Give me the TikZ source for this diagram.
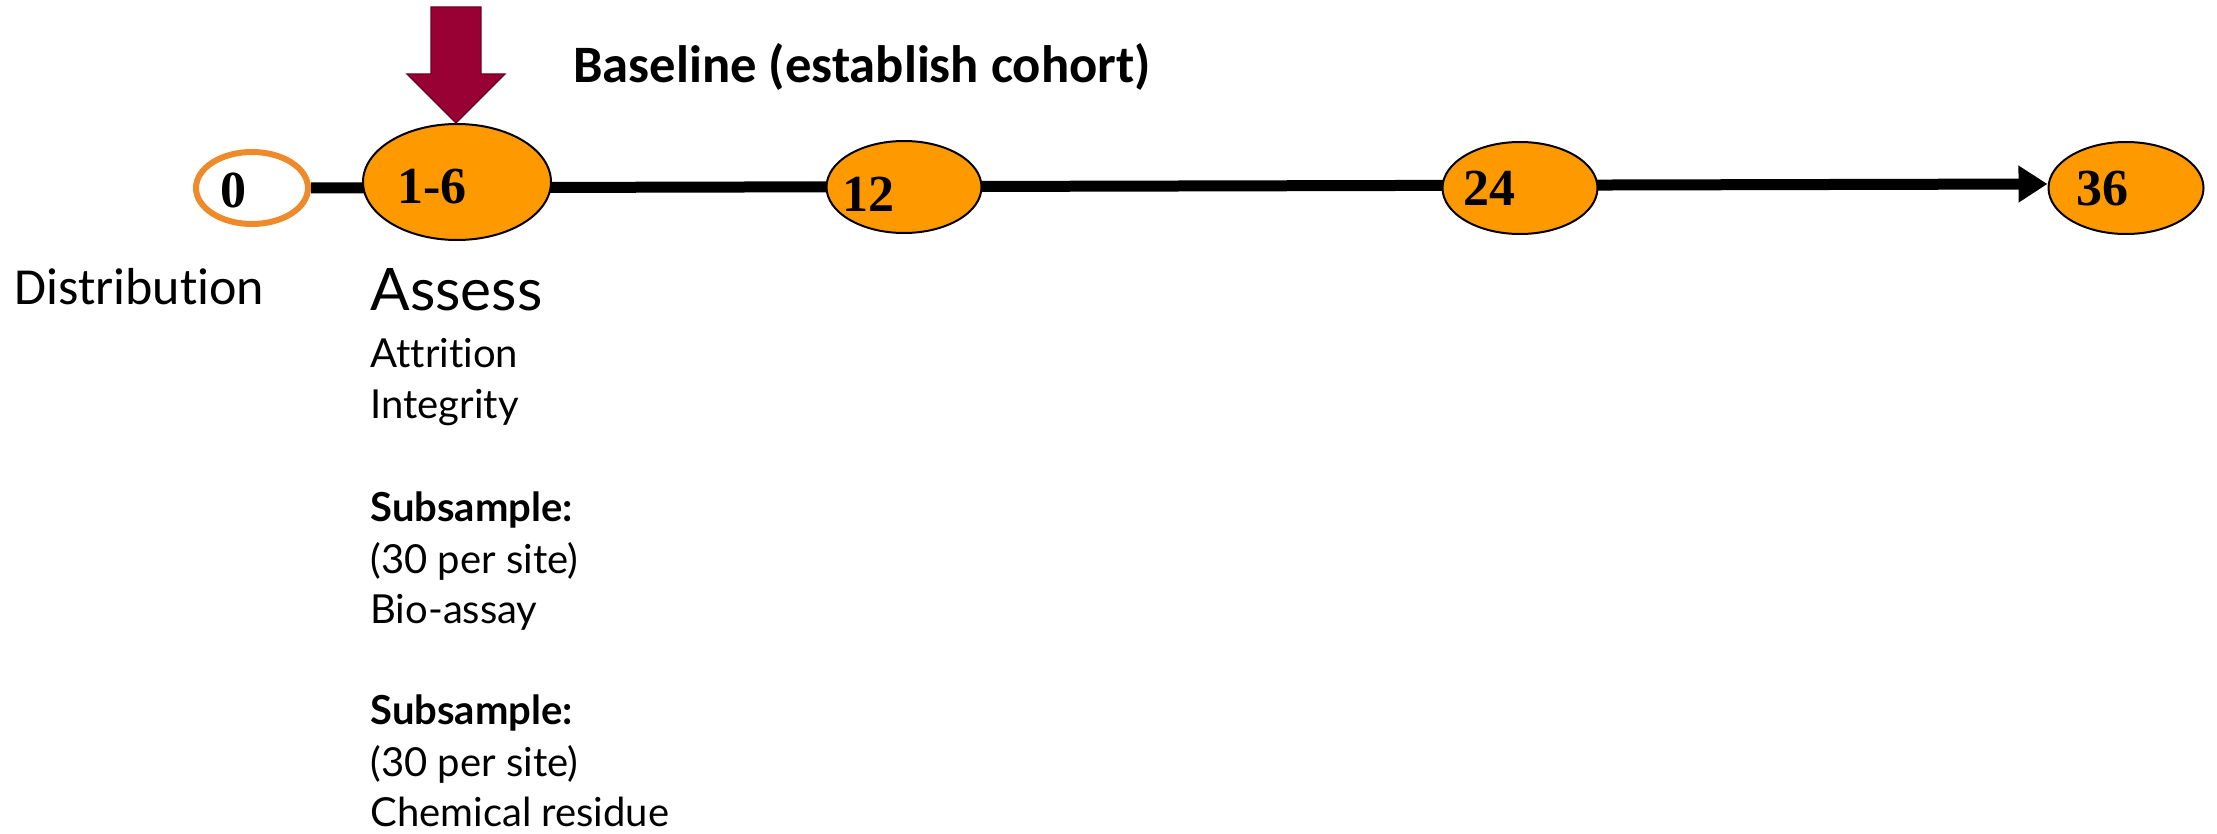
\documentclass[tikz,border=0pt]{standalone}
\usepackage{fontspec}
\setmainfont{Liberation Serif}
\newfontfamily\calfont[Ligatures=NoCommon]{Carlito}
\newfontfamily\gillfont[Ligatures=NoCommon]{Lato}
\usetikzlibrary{arrows.meta,calc,shapes.geometric,backgrounds}
\definecolor{tlorange}{HTML}{FF9900}
\definecolor{ringorange}{HTML}{EE8A2A}
\definecolor{crimson}{HTML}{990033}
\tikzset{
  stage/.style={ellipse, draw=black, line width=1pt, fill=tlorange, inner sep=0pt},
  bigstage/.style={stage, minimum width=94pt, minimum height=58pt},
  smallstage/.style={stage, minimum width=77.5pt, minimum height=46pt},
  start/.style={ellipse, draw=ringorange, line width=3pt, fill=white, inner sep=0pt,
    minimum width=56pt, minimum height=36pt},
  num/.style={anchor=base, inner sep=0pt, font=\fontsize{26pt}{30pt}\selectfont\bfseries},
  timeline/.style={line width=5.5pt, -{Triangle[length=14.5pt,width=17.5pt]}},
  cal/.style={anchor=base west, inner sep=0pt, font=\calfont\fontsize{26pt}{30pt}\selectfont},
  gill/.style={anchor=base west, inner sep=0pt, font=\gillfont\fontsize{20pt}{24pt}\selectfont},
  gillbold/.style={gill, font=\gillfont\bfseries\fontsize{20pt}{24pt}\selectfont},
}
\begin{document}
\begin{tikzpicture}[x=0.5pt,y=-0.5pt]
\useasboundingbox (0,0) rectangle (2217,834);
% stages
\node[start] (n0) at (252,188) {};
\node[bigstage] (n6) at (457,182) {};
\node[smallstage] (n12) at (904,187) {};
\node[smallstage] (n24) at (1520,188) {};
\node[smallstage] (n36) at (2126,188) {};
% timeline behind the stages
\begin{scope}[on background layer]
\draw[timeline] (n0.east) -- ($(n36.west)+(0,-4)$);
\end{scope}
% numbers
\node[num] (t0) at (233,208) {0};
\node[num] (t6) at (432,204) {1-6};
\node[num] (t12) at (868,212) {12};
\node[num] (t24) at (1489,206) {24};
\node[num] (t36) at (2102,206) {36};
% red arrow
\draw[fill=crimson, draw=crimson!70!black, line width=0.6pt]
  (431,7) -- (481,7) -- (481,74) -- (505,74) -- (456,123) -- (407,74) -- (431,74) -- cycle;
% texts
\node[cal, font=\calfont\bfseries\fontsize{26.3pt}{30pt}\selectfont] (base) at (573,83) {Baseline (establish cohort)};
\node[cal] (dist) at (14,305) {Distribution};
\node[gill, font=\gillfont\fontsize{29.3pt}{34pt}\selectfont] (assess) at (370,311) {Assess};
\node[gill] (l1) at (370,367) {Attrition};
\node[gill] (l2) at (370,418) {Integrity};
\node[gillbold] (l3) at (370,521) {Subsample:};
\node[gill] (l4) at (370,573) {(30 per site)};
\node[gill] (l5) at (370,623) {Bio-assay};
\node[gillbold] (l6) at (370,724) {Subsample:};
\node[gill] (l7) at (370,776) {(30 per site)};
\node[gill] (l8) at (370,826) {Chemical residue};
\end{tikzpicture}
\end{document}
